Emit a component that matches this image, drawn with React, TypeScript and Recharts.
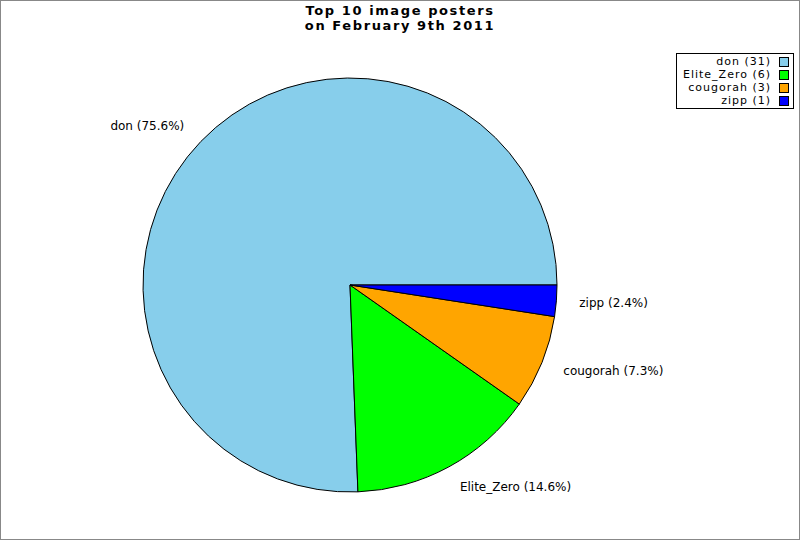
import { PieChart, Pie, Cell, Legend } from "recharts";

const posters = ["don", "Elite_Zero", "cougorah", "zipp"];
const imageCounts = [31, 6, 3, 1];
const sliceColors = ["#87ceeb", "#00ff00", "#ffa500", "#0000ff"];

const data = posters.map((name, i) => ({ name, value: imageCounts[i] }));

const RAD = Math.PI / 180;
const FONT = "'DejaVu Sans', sans-serif";

function renderLabel(props: any) {
  const { cx, cy, midAngle, name, percent } = props;
  const r = 230;
  const x = cx + r * Math.cos(midAngle * RAD);
  const y = cy - r * Math.sin(midAngle * RAD);
  const anchor = Math.cos(midAngle * RAD) >= 0 ? "start" : "end";
  return (
    <text
      x={x}
      y={y}
      textAnchor={anchor}
      dominantBaseline="central"
      fontFamily={FONT}
      fontSize={12}
      fill="#000"
    >
      {`${name} (${(percent * 100).toFixed(1)}%)`}
    </text>
  );
}

function LegendBox() {
  return (
    <div
      style={{
        border: "1px solid #000",
        background: "#fff",
        padding: "1px 4px 1px 6px",
        fontFamily: FONT,
        fontSize: 11,
        letterSpacing: 1,
        lineHeight: "13px",
      }}
    >
      {data.map((d, i) => (
        <div
          key={d.name}
          style={{ display: "flex", justifyContent: "flex-end", alignItems: "center", height: 13 }}
        >
          <span style={{ textAlign: "right" }}>{`${d.name} (${d.value})`}</span>
          <span
            style={{
              display: "inline-block",
              width: 8,
              height: 8,
              marginLeft: 8,
              background: sliceColors[i],
              border: "1px solid #000",
            }}
          />
        </div>
      ))}
    </div>
  );
}

export default function App() {
  return (
    <div
      style={{
        position: "absolute",
        left: 0,
        top: 0,
        width: 800,
        height: 540,
        boxSizing: "border-box",
        border: "1px solid #888",
        background: "#fff",
      }}
    >
      <div
        style={{
          position: "absolute",
          top: 2,
          left: 0,
          width: 798,
          textAlign: "center",
          fontFamily: FONT,
          fontWeight: "bold",
          fontSize: 13,
          letterSpacing: 1.6,
          lineHeight: "15px",
        }}
      >
        Top 10 image posters
        <br />
        on February 9th 2011
      </div>
      <PieChart width={798} height={538}>
        <Pie
          data={data}
          dataKey="value"
          nameKey="name"
          cx={344}
          cy={279}
          outerRadius={207}
          startAngle={0}
          endAngle={360}
          stroke="#000"
          strokeWidth={1}
          label={renderLabel}
          labelLine={false}
          isAnimationActive={false}
        >
          {data.map((d, i) => (
            <Cell key={d.name} fill={sliceColors[i]} />
          ))}
        </Pie>
        <Legend
          layout="vertical"
          verticalAlign="top"
          align="right"
          wrapperStyle={{ top: 52, right: 5, width: "auto" }}
          content={() => <LegendBox />}
        />
      </PieChart>
    </div>
  );
}
